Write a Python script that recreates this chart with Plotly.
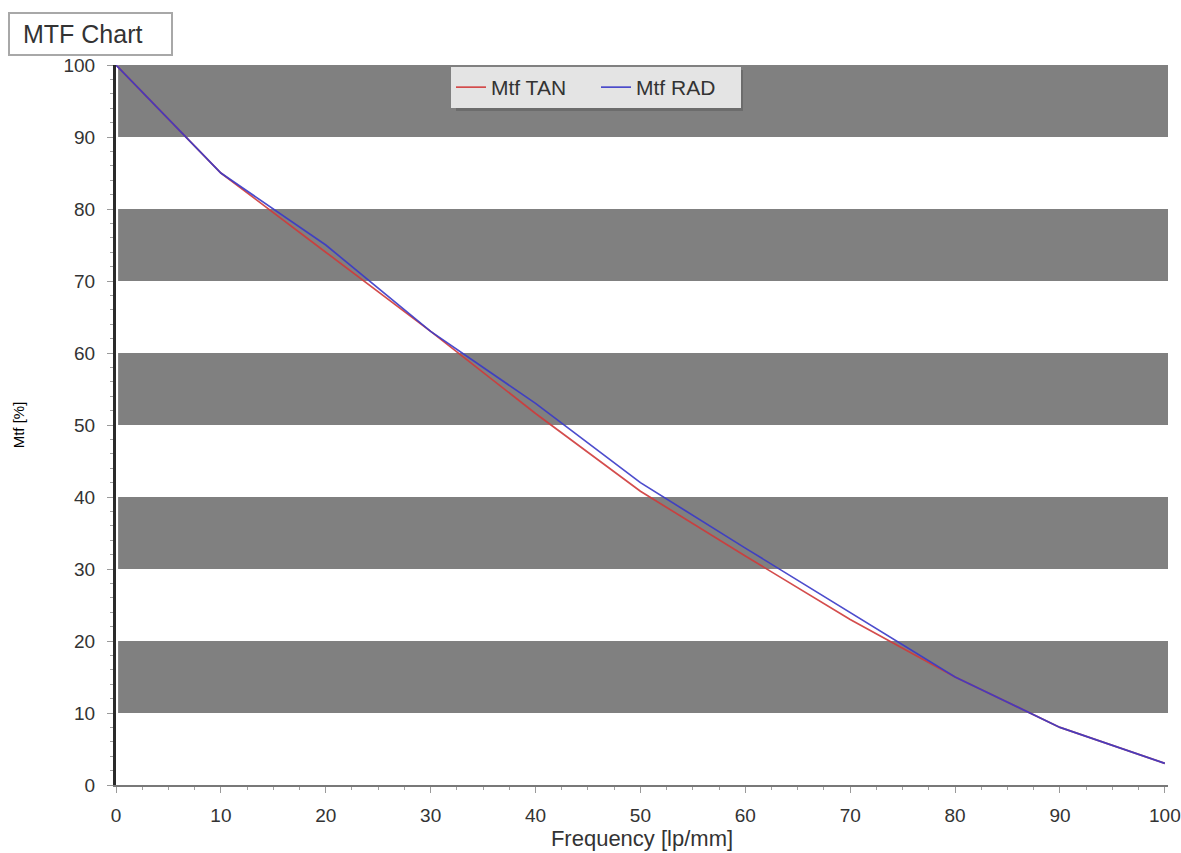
import plotly.graph_objects as go

# Spatial frequency samples and MTF values for the two orientations
frequency = [0, 10, 20, 30, 40, 50, 60, 70, 80, 90, 100]
mtf_tan = [100, 85, 74, 63, 51.6, 40.8, 31.8, 23, 15, 8, 3]
mtf_rad = [100, 85, 75, 63, 53, 42, 32.9, 24, 15, 8, 3]

y_ticks = [0, 10, 20, 30, 40, 50, 60, 70, 80, 90, 100]
x_ticks = [0, 10, 20, 30, 40, 50, 60, 70, 80, 90, 100]
band_ranges = [(10, 20), (30, 40), (50, 60), (70, 80), (90, 100)]

W, H = 1181, 853
L, R, T, B = 116, 13, 65, 68
plot_w = W - L - R
plot_h = H - T - B

FONT = "Liberation Sans, Arial, sans-serif"


def px_x(px):
    """Pixel column -> paper x."""
    return (px - L) / plot_w


def px_y(py):
    """Pixel row (from top) -> paper y."""
    return (H - B - py) / plot_h


fig = go.Figure()

fig.add_trace(go.Scatter(
    x=frequency, y=mtf_tan, name="Mtf TAN", mode="lines",
    line=dict(color="#d03a3a", width=1.7), opacity=0.9,
))
fig.add_trace(go.Scatter(
    x=frequency, y=mtf_rad, name="Mtf RAD", mode="lines",
    line=dict(color="#3a3ac8", width=1.7), opacity=0.9,
))

# Alternating grey bands behind the data
shapes = []
for lo, hi in band_ranges:
    shapes.append(dict(
        type="rect", xref="paper", yref="y", x0=0.002, x1=1, y0=lo, y1=hi,
        fillcolor="#808080", line=dict(width=0), layer="below",
    ))

# Soft shadow behind the legend box
shapes.append(dict(
    type="rect", xref="paper", yref="paper",
    x0=px_x(456), x1=px_x(743), y0=px_y(111), y1=px_y(70),
    fillcolor="#6c6c6c", line=dict(width=0), layer="above",
))

# Frame around the chart caption
shapes.append(dict(
    type="rect", xref="paper", yref="paper",
    x0=px_x(9), x1=px_x(172), y0=px_y(55), y1=px_y(13),
    fillcolor="white", line=dict(color="#a8a8a8", width=2), layer="above",
))

fig.update_layout(
    width=W, height=H,
    margin=dict(l=L, r=R, t=T, b=B, autoexpand=False),
    paper_bgcolor="white", plot_bgcolor="white",
    font=dict(family=FONT, color="#333333"),
    shapes=shapes,
    showlegend=True,
    legend=dict(
        orientation="h", x=px_x(451), y=px_y(67),
        xanchor="left", yanchor="top",
        bgcolor="#e4e4e4", borderwidth=0,
        font=dict(size=21, color="#333333", family=FONT),
        itemwidth=30, entrywidth=100,
    ),
    annotations=[dict(
        text="MTF Chart", xref="paper", yref="paper",
        x=px_x(21), y=px_y(34),
        xanchor="left", yanchor="middle", showarrow=False, align="left",
        font=dict(size=25, color="#333333", family=FONT),
    )],
)

fig.update_xaxes(
    range=[0, 100.3], tickvals=x_ticks, ticktext=[str(v) for v in x_ticks],
    showgrid=False, zeroline=False, automargin=False,
    showline=True, linecolor="#787878", linewidth=2,
    ticks="outside", ticklen=6, tickcolor="#9a9a9a", tickwidth=1,
    minor=dict(dtick=2.5, tick0=0, ticks="outside", ticklen=3,
               tickcolor="#a0a0a0", showgrid=False),
    tickfont=dict(size=19, color="#333333", family=FONT),
    ticklabelstandoff=6,
    title=dict(text="Frequency [lp/mm]", font=dict(size=22, color="#333333", family=FONT),
               standoff=6),
)

fig.update_yaxes(
    range=[0, 100], tickvals=y_ticks, ticktext=[str(v) for v in y_ticks],
    showgrid=False, zeroline=False, automargin=False,
    showline=True, linecolor="#2a2a2a", linewidth=3,
    ticks="outside", ticklen=6, tickcolor="#9a9a9a", tickwidth=1,
    minor=dict(dtick=2, tick0=0, ticks="outside", ticklen=3,
               tickcolor="#a0a0a0", showgrid=False),
    tickfont=dict(size=19, color="#333333", family=FONT),
    ticklabelstandoff=8,
    title=dict(text="Mtf [%]", font=dict(size=15, color="#000000", family=FONT),
               standoff=36),
)

fig.write_html("out.html")
